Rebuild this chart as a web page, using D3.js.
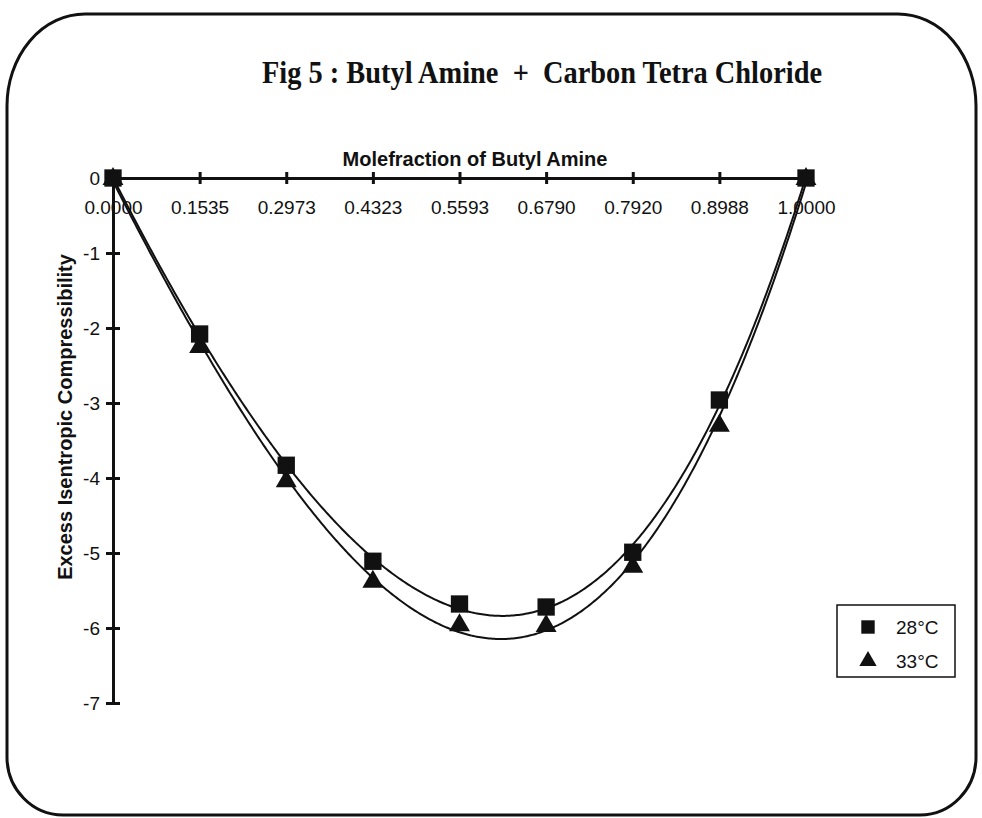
<!DOCTYPE html>
<html>
<head>
  <meta charset="UTF-8">
  <style>
    body { margin: 0; background: #fff; }
    svg { display: block; }
    text { font-family: "Liberation Sans", Arial, sans-serif; fill: #111; }
  </style>
</head>
<body>
<svg></svg>
<script src="https://d3js.org/d3.v7.min.js"></script>
<script>

let width = 982, height = 818;

// data
let moleFractions = ["0.0000", "0.1535", "0.2973", "0.4323", "0.5593", "0.6790", "0.7920", "0.8988", "1.0000"];
let series28 = [0, -2.08, -3.83, -5.11, -5.68, -5.72, -4.99, -2.96, 0];
let series33 = [0, -2.24, -4.03, -5.37, -5.95, -5.96, -5.17, -3.29, 0];
let trendOrders = [4, 3];   // polynomial trendline order per series
let yTicks = [0, -1, -2, -3, -4, -5, -6, -7];
let legendLabels = ["28°C", "33°C"];

let svg = d3.select("svg")
    .attr("width", width)
    .attr("height", height);

// rounded frame (top corners rounder than bottom ones)
let L = 7, T = 14, R = 976, B = 815;
svg.append("path")
    .attr("d", "M" + (L + 78) + "," + T + " L" + (R - 78) + "," + T +
               " A78,92 0 0 1 " + R + "," + (T + 92) +
               " L" + R + "," + (B - 58) +
               " A56,58 0 0 1 " + (R - 56) + "," + B +
               " L" + (L + 56) + "," + B +
               " A56,58 0 0 1 " + L + "," + (B - 58) +
               " L" + L + "," + (T + 92) +
               " A78,92 0 0 1 " + (L + 78) + "," + T + " Z")
    .attr("fill", "white")
    .attr("stroke", "#111")
    .attr("stroke-width", 3);

svg.append("text")
    .attr("x", 542).attr("y", 83)
    .attr("text-anchor", "middle")
    .attr("textLength", 560)
    .attr("lengthAdjust", "spacingAndGlyphs")
    .style("white-space", "pre")
    .style("font-family", "'Liberation Serif', 'Times New Roman', serif")
    .style("font-weight", "bold")
    .style("font-size", "32px")
    .text("Fig 5 : Butyl Amine  +  Carbon Tetra Chloride");

let x = d3.scalePoint().domain(moleFractions).range([113, 806]);
let y = d3.scaleLinear().domain([-7, 0]).range([703, 178]);

// x axis along y = 0
let xAxis = svg.append("g")
    .attr("transform", "translate(0," + y(0) + ")")
    .call(d3.axisBottom(x).tickSizeInner(0).tickSizeOuter(0).tickPadding(23));
xAxis.select(".domain").attr("stroke", "#111").attr("stroke-width", 3);
xAxis.selectAll(".tick line").remove();
xAxis.selectAll(".tick").append("line")
    .attr("y1", -6).attr("y2", 6)
    .attr("stroke", "#111").attr("stroke-width", 3);
xAxis.selectAll(".tick text")
    .style("font-size", "19px")
    .style("font-family", "'Liberation Sans', Arial, sans-serif")
    .attr("fill", "#111");

// y axis
let yAxis = svg.append("g")
    .attr("transform", "translate(" + x(moleFractions[0]) + ",0)")
    .call(d3.axisLeft(y).tickValues(yTicks).tickFormat(d => String(d)).tickSizeInner(0).tickSizeOuter(0).tickPadding(13));
yAxis.select(".domain").attr("stroke", "#111").attr("stroke-width", 3);
yAxis.selectAll(".tick line").remove();
yAxis.selectAll(".tick").append("line")
    .attr("x1", -7).attr("x2", 7)
    .attr("stroke", "#111").attr("stroke-width", 3);
yAxis.selectAll(".tick text")
    .style("font-size", "19px")
    .style("font-family", "'Liberation Sans', Arial, sans-serif")
    .attr("fill", "#111");

svg.append("text")
    .attr("x", 475).attr("y", 166)
    .attr("text-anchor", "middle")
    .style("font-weight", "bold")
    .style("font-size", "20px")
    .text("Molefraction of Butyl Amine");

svg.append("text")
    .attr("transform", "translate(72,417) rotate(-90)")
    .attr("text-anchor", "middle")
    .style("font-weight", "bold")
    .style("font-size", "20px")
    .text("Excess Isentropic Compressibility");

// least-squares polynomial trendline (like the spreadsheet fit)
function polyFit(vals, deg) {
  let n = deg + 1;
  let A = [], b = [];
  for (let r = 0; r < n; r++) {
    A.push(new Array(n).fill(0));
    b.push(0);
  }
  vals.forEach((v, i) => {
    for (let r = 0; r < n; r++) {
      for (let c = 0; c < n; c++) A[r][c] += Math.pow(i, r + c);
      b[r] += v * Math.pow(i, r);
    }
  });
  for (let p = 0; p < n; p++) {
    let mx = p;
    for (let r = p + 1; r < n; r++) if (Math.abs(A[r][p]) > Math.abs(A[mx][p])) mx = r;
    [A[p], A[mx]] = [A[mx], A[p]];
    [b[p], b[mx]] = [b[mx], b[p]];
    for (let r = p + 1; r < n; r++) {
      let f = A[r][p] / A[p][p];
      for (let c = p; c < n; c++) A[r][c] -= f * A[p][c];
      b[r] -= f * b[p];
    }
  }
  let coef = new Array(n).fill(0);
  for (let r = n - 1; r >= 0; r--) {
    let s = b[r];
    for (let c = r + 1; c < n; c++) s -= A[r][c] * coef[c];
    coef[r] = s / A[r][r];
  }
  return t => coef.reduce((acc, c, k) => acc + c * Math.pow(t, k), 0);
}

let line = d3.line().x(d => d[0]).y(d => d[1]);
let step = x.step();
let x0 = x(moleFractions[0]);

[series28, series33].forEach((s, si) => {
  let f = polyFit(s, trendOrders[si]);
  let pts = d3.range(0, s.length - 1 + 0.001, 0.02).map(t => [x0 + t * step, y(f(t))]);
  svg.append("path")
    .attr("d", line(pts))
    .attr("fill", "none")
    .attr("stroke", "#111")
    .attr("stroke-width", 2);
});

let sq = d3.symbol().type(d3.symbolSquare).size(300);
let tri = d3.symbol().type(d3.symbolTriangle).size(190);

svg.append("g").selectAll("path")
    .data(series33)
    .enter().append("path")
    .attr("d", tri)
    .attr("transform", (d, i) => "translate(" + x(moleFractions[i]) + "," + (y(d) + 1) + ")")
    .attr("fill", "#111");

svg.append("g").selectAll("path")
    .data(series28)
    .enter().append("path")
    .attr("d", sq)
    .attr("transform", (d, i) => "translate(" + x(moleFractions[i]) + "," + y(d) + ")")
    .attr("fill", "#111");

// legend
let legend = svg.append("g");
legend.append("rect")
    .attr("x", 837).attr("y", 605)
    .attr("width", 118).attr("height", 72)
    .attr("fill", "white")
    .attr("stroke", "#111")
    .attr("stroke-width", 1.5);
let symbols = [d3.symbol().type(d3.symbolSquare).size(180), d3.symbol().type(d3.symbolTriangle).size(130)];
legendLabels.forEach((lab, i) => {
  legend.append("path")
      .attr("d", symbols[i])
      .attr("transform", "translate(868," + (627 + i * 34) + ")")
      .attr("fill", "#111");
  legend.append("text")
      .attr("x", 896).attr("y", 634 + i * 34)
      .style("font-size", "19px")
      .text(lab);
});

</script>
</body>
</html>
